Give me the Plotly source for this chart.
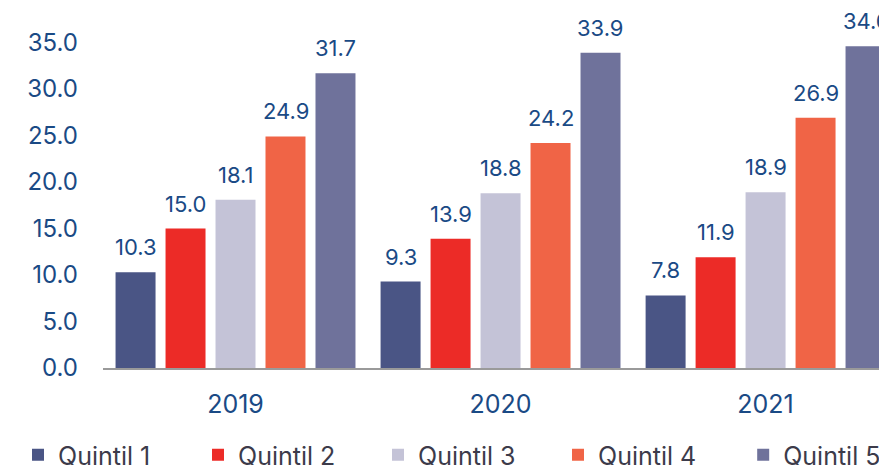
import plotly.graph_objects as go

years = ["2019", "2020", "2021"]
series_names = ["Quintil 1", "Quintil 2", "Quintil 3", "Quintil 4", "Quintil 5"]
q1 = [10.3, 9.3, 7.8]
q2 = [15.0, 13.9, 11.9]
q3 = [18.1, 18.8, 18.9]
q4 = [24.9, 24.2, 26.9]
q5 = [31.7, 33.9, 34.6]
y_ticks = [0, 5, 10, 15, 20, 25, 30, 35]

colors = ["#4A5585", "#EC2B27", "#C4C3D7", "#F06446", "#6F729B"]
values = [q1, q2, q3, q4, q5]
FONT = "Inter"
BLUE = "#1A4A85"

fig = go.Figure()
for k, (name, vals, col) in enumerate(zip(series_names, values, colors)):
    fig.add_trace(go.Bar(
        x=years, y=vals, name=name, marker_color=col, marker_line_width=0,
        legend="legend2" if k == len(series_names) - 1 else "legend",
    ))

# value labels above bars (category axis positions are indices)
n = len(series_names)
for i, vals in enumerate(values):
    for j, v in enumerate(vals):
        fig.add_annotation(
            x=j, y=v, xref="x", yref="y", text=f"{v:.1f}", showarrow=False,
            xshift=(i - (n - 1) / 2) * 50, yshift=25, yanchor="middle",
            font=dict(family=FONT, size=22, color=BLUE),
        )

legend_common = dict(
    orientation="h", xref="container", yref="container",
    y=0.0215, xanchor="left", yanchor="middle",
    font=dict(family=FONT, size=25, color="#3C3B4A"),
    entrywidth=135, entrywidthmode="pixels",
    itemclick=False, itemdoubleclick=False, bgcolor="rgba(0,0,0,0)",
)

fig.update_layout(
    width=879, height=465,
    margin=dict(l=103, r=0, t=10, b=97, autoexpand=False),
    plot_bgcolor="white", paper_bgcolor="white",
    barmode="group", bargap=0.057, bargroupgap=0.2,
    font=dict(family=FONT, color=BLUE),
    legend=dict(x=0.0205, **legend_common),
    legend2=dict(x=0.8455, **legend_common),
)
fig.update_xaxes(
    type="category", range=[-0.5, 2.428], showline=True,
    linecolor="#9A9A9A", linewidth=2, automargin=False,
    ticks="", tickfont=dict(family=FONT, size=25, color=BLUE),
    ticklabelstandoff=13, showgrid=False,
)
fig.update_yaxes(
    range=[0, 38.5], tickvals=y_ticks, tickformat=".1f", showgrid=False,
    zeroline=False, showline=False, ticks="", automargin=False,
    tickfont=dict(family=FONT, size=24, color=BLUE), ticklabelstandoff=24,
)
fig.write_html(
    "out.html",
    config={"displayModeBar": False},
    post_script="document.body.style.margin='0px';document.body.style.overflow='hidden';",
)
